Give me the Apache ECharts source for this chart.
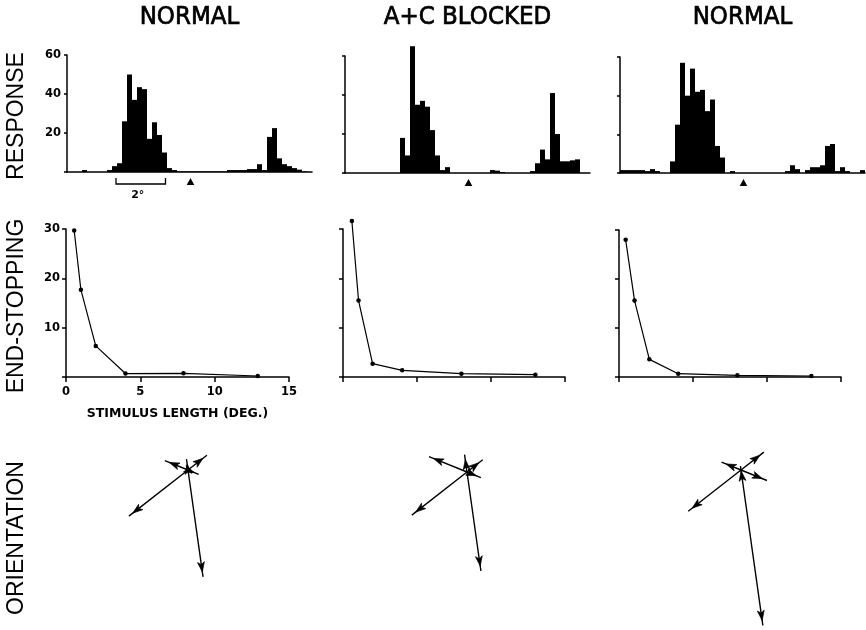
<!DOCTYPE html>
<html>
<head>
<meta charset="utf-8">
<script src="https://cdn.jsdelivr.net/npm/echarts@6/dist/echarts.min.js"></script>
<style>
  html, body { margin: 0; padding: 0; background: #fff; }
  #chart { width: 866px; height: 630px; }
</style>
</head>
<body>
<div id="chart"></div>
<script>
// Column and row headings
const columnTitles = ['NORMAL', 'A+C BLOCKED', 'NORMAL'];
const rowTitles = ['RESPONSE', 'END-STOPPING', 'ORIENTATION'];

// Response histograms: 49 bins of 0.2 deg along the sweep
const binWidthDeg = 0.2;
const histNormalA = [0, 0, 0, 1, 0, 0, 0, 0, 1, 3, 4.5, 26, 50, 37, 43.5, 42.5, 17, 25.5, 19, 10,
  2, 1, 0.3, 0.3, 0.3, 0.3, 0.3, 0.3, 0.3, 0.3, 0.3, 0.3, 1, 1, 1, 1, 1.5, 1.5, 4, 1,
  18, 22.5, 7, 4, 3, 2, 1.2, 0.3, 0];
const histBlocked = [0, 0, 0, 0, 0, 0, 0, 0, 0, 0, 0, 18, 9, 65, 35, 37, 34, 22, 9, 1.5,
  3, 0, 0, 0, 0, 0, 0, 0, 0, 1.5, 1.2, 0.5, 0, 0, 0, 0, 0, 1, 5, 12,
  7, 41, 20, 6, 6, 6.5, 7, 0, 0];
const histNormalB = [1.5, 1.5, 1.5, 1.5, 1.5, 1, 2, 1, 0, 0, 6, 25, 57, 40, 54, 42, 43, 32, 38, 14,
  8, 0, 1, 0, 0, 0, 0, 0, 0, 0, 0, 0, 0, 1, 4, 2, 0, 1.5, 3, 3,
  4, 14, 15, 1, 3, 1, 0, 0, 1.5];
const histMax = 60;
const histStep = 20;
const stimulusCentreDeg = [4.94, 4.94, 4.94];
const scaleBarDeg = [1.96, 3.94];
const scaleBarLabel = '2°';

// End-stopping against stimulus length (deg)
const lengthA = [0.55, 1.0, 2.0, 4.0, 7.9, 12.9];
const endStopA = [29.7, 17.7, 6.3, 0.7, 0.75, 0.2];
const lengthB = [0.6, 1.05, 2.0, 4.0, 8.0, 13.0];
const endStopB = [31.6, 15.5, 2.7, 1.36, 0.68, 0.48];
const lengthC = [0.45, 1.05, 2.05, 4.0, 8.0, 13.0];
const endStopC = [28.0, 15.6, 3.6, 0.68, 0.34, 0.2];
const lengthMax = 15;
const lengthStep = 5;
const endStopMax = 30;
const endStopStep = 10;

// Orientation: response for each direction of motion (deg, counter-clockwise from east)
const directions = [38, 98, 158, 218, 278, 338];
const orientA = [24, 11, 25, 75, 108, 11.5];
const orientB = [20, 17.5, 41, 70, 100, 15];
const orientC = [29, 4, 21, 67, 157, 28];
const orientMax = 160;

// ---- layout ----
const histGrids = [
  { left: 67, top: 55, width: 245, height: 117 },
  { left: 345, top: 56, width: 245, height: 117 },
  { left: 620, top: 57, width: 245, height: 116 }
];
const esGrids = [
  { left: 66, top: 229, width: 223, height: 148 },
  { left: 343, top: 229, width: 222, height: 148 },
  { left: 619, top: 230, width: 222, height: 147 }
];
const polarCentres = [[188, 470], [467, 472], [741, 470]];

const histSets = [histNormalA, histBlocked, histNormalB];
const esX = [lengthA, lengthB, lengthC];
const esY = [endStopA, endStopB, endStopC];
const orientSets = [orientA, orientB, orientC];

const ink = '#000';
const labelFont = { color: ink, fontFamily: 'DejaVu Sans', fontWeight: 'bold', fontSize: 11.5 };
const binCats = histNormalA.map((_, i) => String(i));

const grid = [...histGrids, ...esGrids].map(g => Object.assign({ containLabel: false }, g));

const xAxis = [];
const yAxis = [];
const series = [];

// Histogram rows
histGrids.forEach((g, i) => {
  xAxis.push({
    type: 'category', gridIndex: i, data: binCats, boundaryGap: true,
    axisLine: { lineStyle: { color: ink, width: 1.5 } },
    axisTick: { show: false }, axisLabel: { show: false }, splitLine: { show: false }
  });
  yAxis.push({
    type: 'value', gridIndex: i, min: 0, max: histMax, interval: histStep,
    axisLine: { show: true, lineStyle: { color: ink, width: 1.5 } },
    axisTick: { show: true, length: 3, lineStyle: { color: ink, width: 1.5 } },
    axisLabel: Object.assign({ show: i === 0, margin: 6, formatter: v => (v === 0 ? '' : String(v)) }, labelFont),
    splitLine: { show: false }
  });
});
// Hidden degree axes over the histograms for the stimulus marker and the scale bar
histGrids.forEach((g, i) => {
  xAxis.push({
    type: 'value', gridIndex: i, min: 0, max: binCats.length * binWidthDeg, show: false
  });
});
// End-stopping rows
esGrids.forEach((g, i) => {
  xAxis.push({
    type: 'value', gridIndex: 3 + i, min: 0, max: lengthMax, interval: lengthStep,
    axisLine: { lineStyle: { color: ink, width: 1.5 } },
    axisTick: { show: true, length: 5, lineStyle: { color: ink, width: 1.5 } },
    axisLabel: Object.assign({ show: i === 0, margin: 9 }, labelFont),
    splitLine: { show: false },
    name: i === 0 ? 'STIMULUS LENGTH (DEG.)' : '',
    nameLocation: 'middle', nameGap: 30,
    nameTextStyle: { color: ink, fontFamily: 'DejaVu Sans', fontWeight: 'bold', fontSize: 12.5 }
  });
  yAxis.push({
    type: 'value', gridIndex: 3 + i, min: 0, max: endStopMax, interval: endStopStep,
    axisLine: { show: true, lineStyle: { color: ink, width: 1.5 } },
    axisTick: { show: true, length: 4, lineStyle: { color: ink, width: 1.5 } },
    axisLabel: Object.assign({ show: i === 0, margin: 6, formatter: v => (v === 0 ? '' : String(v)) }, labelFont),
    splitLine: { show: false }
  });
});

// Histogram bars
histSets.forEach((values, i) => {
  series.push({
    type: 'bar', xAxisIndex: i, yAxisIndex: i, data: values,
    barCategoryGap: '0%', barGap: '0%', clip: false,
    itemStyle: { color: ink }, silent: true
  });
});

// Stimulus centre marker (triangle under each histogram)
stimulusCentreDeg.forEach((pos, i) => {
  series.push({
    type: 'custom', xAxisIndex: 3 + i, yAxisIndex: i, clip: false, silent: true,
    data: [[pos, 0]],
    renderItem: (params, api) => {
      const p = api.coord([api.value(0), api.value(1)]);
      return {
        type: 'polygon',
        shape: { points: [[p[0], p[1] + 6], [p[0] - 3.8, p[1] + 13], [p[0] + 3.8, p[1] + 13]] },
        style: { fill: ink }
      };
    }
  });
});

// Scale bar under the first histogram
series.push({
  type: 'custom', xAxisIndex: 3, yAxisIndex: 0, clip: false, silent: true,
  data: [[scaleBarDeg[0], scaleBarDeg[1]]],
  renderItem: (params, api) => {
    const a = api.coord([api.value(0), 0]);
    const b = api.coord([api.value(1), 0]);
    const y = a[1] + 12;
    return {
      type: 'group',
      children: [
        {
          type: 'polyline',
          shape: { points: [[a[0], y - 6], [a[0], y], [b[0], y], [b[0], y - 6]] },
          style: { stroke: ink, lineWidth: 1.3, fill: null }
        },
        {
          type: 'text',
          x: (a[0] + b[0]) / 2 - 3, y: y + 11,
          style: {
            text: scaleBarLabel, fill: ink, font: 'bold 11px "DejaVu Sans"',
            textAlign: 'center', textVerticalAlign: 'middle'
          }
        }
      ]
    };
  }
});

// End-stopping curves
esGrids.forEach((g, i) => {
  series.push({
    type: 'line', xAxisIndex: 6 + i, yAxisIndex: 3 + i,
    data: esX[i].map((x, k) => [x, esY[i][k]]),
    clip: false, silent: true,
    symbol: 'circle', symbolSize: 4.5, showSymbol: true,
    lineStyle: { color: ink, width: 1.2 },
    itemStyle: { color: ink }
  });
});

// Orientation diagrams: each direction pair drawn as a double-headed arrow through the centre
const polar = polarCentres.map(c => ({ center: c, radius: orientMax }));
const angleAxis = polarCentres.map((c, i) => ({
  polarIndex: i, type: 'value', min: 0, max: 360, startAngle: 0, clockwise: false,
  show: false, splitLine: { show: false }, axisLine: { show: false }
}));
const radiusAxis = polarCentres.map((c, i) => ({
  polarIndex: i, type: 'value', min: 0, max: orientMax,
  show: false, splitLine: { show: false }, axisLine: { show: false }
}));

const arrowLen = 10;
function arrowTip(r, theta) {
  const rad = theta * Math.PI / 180;
  return {
    value: [r, theta],
    symbol: 'arrow',
    symbolSize: [5.2, arrowLen],
    symbolRotate: theta - 90,
    symbolOffset: [-Math.cos(rad) * arrowLen / 2, Math.sin(rad) * arrowLen / 2]
  };
}
orientSets.forEach((resp, i) => {
  const half = directions.length / 2;
  for (let k = 0; k < half; k++) {
    const t1 = directions[k];
    const t2 = directions[k + half];
    series.push({
      type: 'line', coordinateSystem: 'polar', polarIndex: i,
      clip: false, silent: true, showSymbol: true, symbol: 'none',
      lineStyle: { color: ink, width: 1.4 },
      itemStyle: { color: ink, borderColor: ink, borderWidth: 0.6 },
      data: [arrowTip(resp[k], t1), { value: [0, t1], symbol: 'none' }, arrowTip(resp[k + half], t2)]
    });
  }
});

// Headings as text: tall, medium-weight capitals
const graphic = [];
histGrids.forEach((g, i) => {
  graphic.push({
    type: 'text', x: g.left + g.width / 2, y: 18, scaleY: 1.05, silent: true,
    style: {
      text: columnTitles[i], fill: ink, stroke: ink, lineWidth: 0.7,
      font: '23px "DejaVu Sans"',
      textAlign: 'center', textVerticalAlign: 'middle'
    }
  });
});
const rowCentres = [116, 306, 538];
rowTitles.forEach((t, i) => {
  graphic.push({
    type: 'text', x: 17, y: rowCentres[i], rotation: Math.PI / 2, silent: true,
    style: {
      text: t, fill: ink, font: '23px "Liberation Sans"',
      textAlign: 'center', textVerticalAlign: 'middle'
    }
  });
});

const chart = echarts.init(document.getElementById('chart'), null, { renderer: 'canvas' });
chart.setOption({
  animation: false,
  backgroundColor: '#fff',
  grid, xAxis, yAxis, polar, angleAxis, radiusAxis, series, graphic
});
</script>
</body>
</html>
